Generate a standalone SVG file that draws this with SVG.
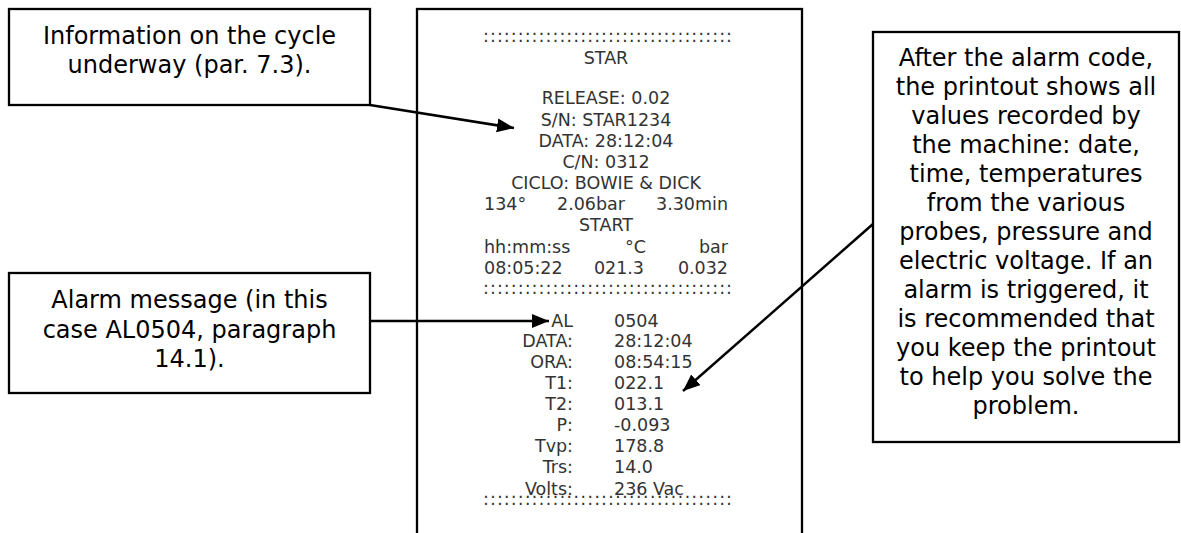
<svg xmlns="http://www.w3.org/2000/svg" width="1181" height="533" viewBox="0 0 1181 533">
<style>
.box{fill:#fff;stroke:#000;stroke-width:2.3}
.note{font-family:"DejaVu Sans","Verdana",sans-serif;font-size:24px;fill:#000;text-anchor:middle}
.pr{font-family:"DejaVu Sans","Verdana",sans-serif;font-size:17.5px;fill:#333}
.c{text-anchor:middle}
.e{text-anchor:end}
.conn{stroke:#000;stroke-width:2.5;fill:none}
</style>
<defs>
<marker id="ah" markerUnits="userSpaceOnUse" markerWidth="18" markerHeight="15" refX="17" refY="7" orient="auto">
<path d="M0,0 L17,7 L0,14 z" fill="#000"/>
</marker>
</defs>
<rect width="1181" height="533" fill="#fff"/>
<g id="printout">
<rect class="box" x="417" y="9" width="385" height="540"/>
<text class="pr" x="483" y="42" textLength="249" lengthAdjust="spacing">::::::::::::::::::::::::::::::::::::</text>
<text class="pr c" x="606" y="64">STAR</text>
<text class="pr c" x="606" y="104">RELEASE: 0.02</text>
<text class="pr c" x="606" y="126">S/N: STAR1234</text>
<text class="pr c" x="606" y="147">DATA: 28:12:04</text>
<text class="pr c" x="606" y="168">C/N: 0312</text>
<text class="pr c" x="606" y="189">CICLO: BOWIE &amp; DICK</text>
<text class="pr" x="484" y="210">134°</text>
<text class="pr" x="557" y="210">2.06bar</text>
<text class="pr e" x="728" y="210">3.30min</text>
<text class="pr c" x="606" y="231">START</text>
<text class="pr" x="484" y="253">hh:mm:ss</text>
<text class="pr e" x="646" y="253">°C</text>
<text class="pr e" x="728" y="253">bar</text>
<text class="pr" x="484" y="274">08:05:22</text>
<text class="pr e" x="644" y="274">021.3</text>
<text class="pr e" x="728" y="274">0.032</text>
<text class="pr" x="483" y="294" textLength="249" lengthAdjust="spacing">::::::::::::::::::::::::::::::::::::</text>
<text class="pr e" x="573" y="327">AL</text><text class="pr" x="614" y="327">0504</text>
<text class="pr e" x="573" y="347">DATA:</text><text class="pr" x="614" y="347">28:12:04</text>
<text class="pr e" x="573" y="368">ORA:</text><text class="pr" x="614" y="368">08:54:15</text>
<text class="pr e" x="573" y="389">T1:</text><text class="pr" x="614" y="389">022.1</text>
<text class="pr e" x="573" y="410">T2:</text><text class="pr" x="614" y="410">013.1</text>
<text class="pr e" x="573" y="431">P:</text><text class="pr" x="614" y="431">-0.093</text>
<text class="pr e" x="573" y="452">Tvp:</text><text class="pr" x="614" y="452">178.8</text>
<text class="pr e" x="573" y="473">Trs:</text><text class="pr" x="614" y="473">14.0</text>
<text class="pr e" x="573" y="495">Volts:</text><text class="pr" x="614" y="495">236 Vac</text>
<text class="pr" x="483" y="505" textLength="249" lengthAdjust="spacing">::::::::::::::::::::::::::::::::::::</text>
</g>
<g id="note-cycle">
<rect class="box" x="9" y="9" width="361" height="96"/>
<text class="note" x="189.5" y="44">Information on the cycle</text>
<text class="note" x="189.5" y="73">underway (par. 7.3).</text>
</g>
<g id="note-alarm">
<rect class="box" x="9" y="273" width="361" height="120"/>
<text class="note" x="189.5" y="308">Alarm message (in this</text>
<text class="note" x="189.5" y="338">case AL0504, paragraph</text>
<text class="note" x="189.5" y="367">14.1).</text>
</g>
<g id="note-values">
<rect class="box" x="873" y="32" width="306" height="410"/>
<text class="note" x="1026" y="66">After the alarm code,</text>
<text class="note" x="1026" y="95">the printout shows all</text>
<text class="note" x="1026" y="124">values recorded by</text>
<text class="note" x="1026" y="153">the machine: date,</text>
<text class="note" x="1026" y="182">time, temperatures</text>
<text class="note" x="1026" y="211">from the various</text>
<text class="note" x="1026" y="240">probes, pressure and</text>
<text class="note" x="1026" y="269">electric voltage. If an</text>
<text class="note" x="1026" y="298">alarm is triggered, it</text>
<text class="note" x="1026" y="327">is recommended that</text>
<text class="note" x="1026" y="356">you keep the printout</text>
<text class="note" x="1026" y="385">to help you solve the</text>
<text class="note" x="1026" y="414">problem.</text>
</g>
<g id="connectors">
<line class="conn" x1="370" y1="105" x2="514" y2="128" marker-end="url(#ah)"/>
<line class="conn" x1="370" y1="321" x2="549" y2="321" marker-end="url(#ah)"/>
<line class="conn" x1="873" y1="224" x2="683" y2="391" marker-end="url(#ah)"/>
</g>
</svg>
